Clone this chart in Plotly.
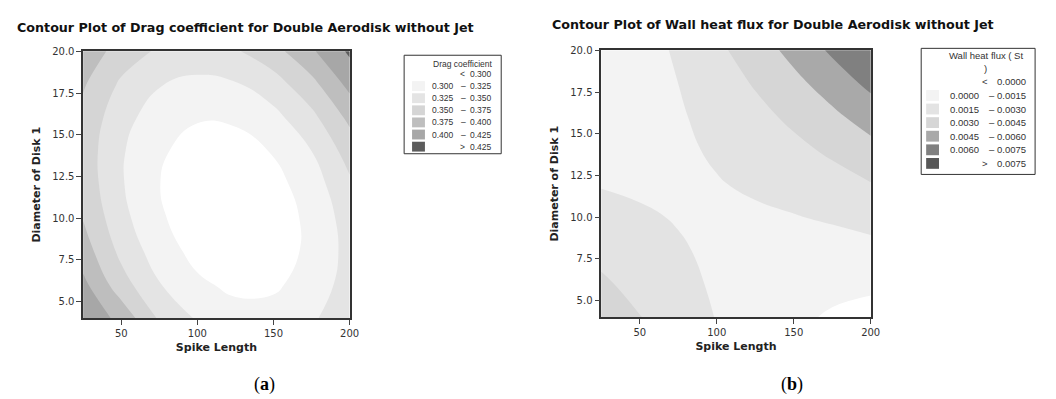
import plotly.graph_objects as go

# ---------------- data ----------------
spike_length = [25, 50, 75, 100, 125, 150, 175, 200]
disk_diameter = [4, 6, 8, 10, 12, 14, 16, 18, 20]

# Drag coefficient (rows = Diameter of Disk 1, cols = Spike Length)
drag_coefficient = [
    [0.4210, 0.3920, 0.3467, 0.3223, 0.3098, 0.3093, 0.3208, 0.3442],
    [0.4065, 0.3605, 0.3265, 0.3045, 0.2944, 0.2962, 0.3101, 0.3359],
    [0.3873, 0.3437, 0.3121, 0.2924, 0.2847, 0.2889, 0.3052, 0.3333],
    [0.3738, 0.3326, 0.3034, 0.2861, 0.2807, 0.2874, 0.3060, 0.3366],
    [0.3661, 0.3273, 0.3004, 0.2855, 0.2826, 0.2916, 0.3126, 0.3455],
    [0.3641, 0.3277, 0.3032, 0.2907, 0.2902, 0.3016, 0.3249, 0.3603],
    [0.3679, 0.3339, 0.3118, 0.3017, 0.3035, 0.3173, 0.3430, 0.3807],
    [0.3775, 0.3458, 0.3261, 0.3184, 0.3226, 0.3388, 0.3669, 0.4070],
    [0.3928, 0.3635, 0.3462, 0.3408, 0.3474, 0.3660, 0.3965, 0.4290],
]

# Wall heat flux (St) (rows = Diameter of Disk 1, cols = Spike Length)
wall_heat_flux = [
    [0.00401, 0.00305, 0.00220, 0.00145, 0.00081, 0.00027, -0.00016, -0.00048],
    [0.00325, 0.00250, 0.00186, 0.00133, 0.00090, 0.00058, 0.00037, 0.00026],
    [0.00256, 0.00203, 0.00161, 0.00129, 0.00108, 0.00097, 0.00097, 0.00108],
    [0.00195, 0.00164, 0.00143, 0.00133, 0.00133, 0.00144, 0.00165, 0.00198],
    [0.00142, 0.00132, 0.00133, 0.00144, 0.00166, 0.00198, 0.00241, 0.00295],
    [0.00097, 0.00109, 0.00131, 0.00163, 0.00207, 0.00261, 0.00325, 0.00400],
    [0.00060, 0.00093, 0.00136, 0.00191, 0.00255, 0.00331, 0.00417, 0.00514],
    [0.00030, 0.00085, 0.00150, 0.00226, 0.00312, 0.00409, 0.00516, 0.00635],
    [0.00009, 0.00085, 0.00171, 0.00268, 0.00376, 0.00495, 0.00624, 0.00740],
]

drag_levels = [0.300, 0.325, 0.350, 0.375, 0.400, 0.425]
drag_level_labels = ["0.300", "0.325", "0.350", "0.375", "0.400", "0.425"]
flux_levels = [0.0000, 0.0015, 0.0030, 0.0045, 0.0060, 0.0075]
flux_level_labels = ["0.0000", "0.0015", "0.0030", "0.0045", "0.0060", "0.0075"]

drag_colors = ["#FFFFFF", "#F3F3F3", "#E4E4E4", "#D5D5D5", "#BEBEBE", "#A7A7A7", "#5C5C5C"]
flux_colors = ["#FFFFFF", "#F3F3F3", "#E3E3E3", "#D6D6D6", "#A9A9A9", "#808080", "#575757"]

title_a = "Contour Plot of Drag coefficient for Double Aerodisk without Jet"
title_b = "Contour Plot of Wall heat flux for Double Aerodisk without Jet"
x_title = "Spike Length"
y_title = "Diameter of Disk 1"
legend_title_a = "Drag coefficient"
legend_title_b = ["Wall heat flux ( St", ")"]

# ---------------- helpers ----------------
W, H = 1056, 399


def px(x):
    return x / W


def py(y):
    return 1 - y / H


def stepscale(colors):
    n = len(colors)
    out = []
    for i, c in enumerate(colors):
        out.append([i / n, c])
        out.append([(i + 1) / n, c])
    return out


fig = go.Figure()

fig.add_trace(go.Contour(
    x=spike_length, y=disk_diameter, z=drag_coefficient,
    autocontour=False,
    contours=dict(start=drag_levels[0], end=drag_levels[-1],
                  size=drag_levels[1] - drag_levels[0],
                  coloring="fill", showlines=False),
    line=dict(width=0, smoothing=1.3),
    colorscale=stepscale(drag_colors), showscale=False,
    hoverinfo="skip", xaxis="x", yaxis="y"))

fig.add_trace(go.Contour(
    x=spike_length, y=disk_diameter, z=wall_heat_flux,
    autocontour=False,
    contours=dict(start=flux_levels[0], end=flux_levels[-1],
                  size=flux_levels[1] - flux_levels[0],
                  coloring="fill", showlines=False),
    line=dict(width=0, smoothing=1.3),
    colorscale=stepscale(flux_colors), showscale=False,
    hoverinfo="skip", xaxis="x2", yaxis="y2"))

tickfont = dict(family="DejaVu Sans", size=10, color="#333333")
titlefont = dict(family="DejaVu Sans", size=11, color="#222222", weight="bold")

axis_common = dict(showgrid=False, zeroline=False, showline=True, mirror=True,
                   linecolor="#333333", linewidth=1.5, ticks="outside",
                   ticklen=5, tickwidth=1, tickcolor="#444444",
                   tickfont=tickfont)

xa = dict(axis_common, range=[25, 200], tickvals=[50, 100, 150, 200],
          title=dict(text=x_title, font=titlefont, standoff=5))
ya = dict(axis_common, range=[4, 20], tick0=5, dtick=2.5, tickformat=".1f",
          title=dict(text=y_title, font=titlefont, standoff=9))

fig.update_layout(
    width=W, height=H,
    margin=dict(l=0, r=0, t=0, b=0),
    paper_bgcolor="white", plot_bgcolor="white",
    showlegend=False,
    xaxis=dict(xa, domain=[px(84), px(353)], anchor="y"),
    yaxis=dict(ya, domain=[py(317), py(46)], anchor="x"),
    xaxis2=dict(xa, domain=[px(607), px(879)], anchor="y2"),
    yaxis2=dict(ya, domain=[py(316), py(45)], anchor="x2"),
)

ann = []
shapes = []

# chart titles
tfont = dict(family="DejaVu Sans", size=12.7, color="#111111", weight="bold")
ann.append(dict(text=title_a, x=px(15), y=py(22), xref="paper", yref="paper",
                xanchor="left", yanchor="middle", showarrow=False, font=tfont))
ann.append(dict(text=title_b, x=px(555), y=py(19), xref="paper", yref="paper",
                xanchor="left", yanchor="middle", showarrow=False, font=tfont))

# sub-captions
cfont = dict(family="Liberation Serif", size=18, color="#000000")
ann.append(dict(text="(<b>a</b>)", x=px(267), y=py(384), xref="paper", yref="paper",
                xanchor="center", yanchor="middle", showarrow=False, font=cfont))
ann.append(dict(text="(<b>b</b>)", x=px(800), y=py(384), xref="paper", yref="paper",
                xanchor="center", yanchor="middle", showarrow=False, font=cfont))


def legend(box, title_lines, title_x, title_anchor, title_ys, row0, dy,
           sw_x, sw_h, lx, dash_x, cmp_x, rx, r_anchor, labels, colors, fsize):
    lf = dict(family="Liberation Sans", size=fsize, color="#333333")
    x0, y0, x1, y1 = box
    shapes.append(dict(type="rect", xref="paper", yref="paper",
                       x0=px(x0), x1=px(x1), y0=py(y1), y1=py(y0),
                       line=dict(color="#333333", width=1), fillcolor="white",
                       layer="above"))
    for t, ty in zip(title_lines, title_ys):
        ann.append(dict(text=t, x=px(title_x), y=py(ty), xref="paper", yref="paper",
                        xanchor=title_anchor, yanchor="middle", showarrow=False, font=lf))
    n = len(labels)
    for i in range(n + 1):
        yc = row0 + dy * i
        if i > 0:
            shapes.append(dict(type="rect", xref="paper", yref="paper",
                               x0=px(sw_x[0]), x1=px(sw_x[1]),
                               y0=py(yc + sw_h / 2), y1=py(yc - sw_h / 2),
                               line=dict(width=0), fillcolor=colors[i],
                               layer="above"))
        if i == 0:
            left, mid, right = "", "<", labels[0]
        elif i == n:
            left, mid, right = "", ">", labels[-1]
        else:
            left, mid, right = labels[i - 1], "\u2013", labels[i]
        if left:
            ann.append(dict(text=left, x=px(lx), y=py(yc), xref="paper", yref="paper",
                            xanchor="right", yanchor="middle", showarrow=False, font=lf))
            ann.append(dict(text=mid, x=px(dash_x), y=py(yc), xref="paper", yref="paper",
                            xanchor="center", yanchor="middle", showarrow=False, font=lf))
        else:
            ann.append(dict(text=mid, x=px(cmp_x), y=py(yc), xref="paper", yref="paper",
                            xanchor="center", yanchor="middle", showarrow=False, font=lf))
        ann.append(dict(text=right, x=px(rx), y=py(yc), xref="paper", yref="paper",
                        xanchor=r_anchor, yanchor="middle", showarrow=False, font=lf))


legend(box=(408, 50, 506, 150), title_lines=[legend_title_a], title_x=500,
       title_anchor="right", title_ys=[59], row0=69, dy=12.3,
       sw_x=(416, 429), sw_h=10, lx=460, dash_x=468, cmp_x=467, rx=499,
       r_anchor="right", labels=drag_level_labels, colors=drag_colors, fsize=8.5)

legend(box=(930, 43, 1045, 171), title_lines=legend_title_b, title_x=995,
       title_anchor="center", title_ys=[50, 63], row0=77, dy=13.8,
       sw_x=(935, 948), sw_h=11, lx=990, dash_x=1001, cmp_x=994, rx=1038,
       r_anchor="right", labels=flux_level_labels, colors=flux_colors, fsize=9.5)

fig.update_layout(annotations=ann, shapes=shapes)

fig.write_html("out.html")
